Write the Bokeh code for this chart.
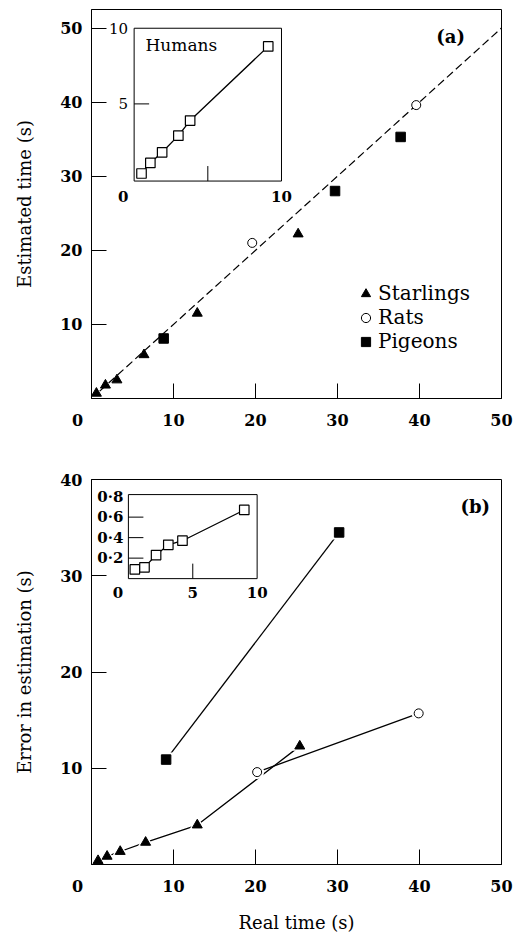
import math
from bokeh.plotting import figure
from bokeh.models import Range1d, FixedTicker, Legend, LegendItem
from bokeh.layouts import column
from bokeh.embed import file_html
from bokeh.resources import INLINE
from bokeh.core.properties import value

# ---------------- data: panel (a) estimated vs real time ----------------
star_real_a = [0.6, 1.7, 3.1, 6.4, 12.9, 25.2]
star_est_a = [0.7, 1.8, 2.5, 5.9, 11.5, 22.2]
rat_real_a = [19.6, 39.6]
rat_est_a = [21.0, 39.6]
pig_real_a = [8.8, 29.7, 37.7]
pig_est_a = [8.1, 28.0, 35.3]
human_real_a = [0.5, 1.1, 1.9, 3.0, 3.8, 9.1]
human_est_a = [0.4, 1.1, 1.8, 2.9, 3.9, 8.8]
identity_x = [1.0, 50.0]          # dashed line y = x
identity_y = [1.0, 50.0]

# ---------------- data: panel (b) error in estimation ----------------
star_real_b = [0.8, 1.9, 3.5, 6.6, 12.9, 25.4]
star_err_b = [0.4, 0.85, 1.35, 2.3, 4.1, 12.3]
rat_real_b = [20.2, 39.9]
rat_err_b = [9.6, 15.7]
pig_real_b = [9.1, 30.2]
pig_err_b = [10.9, 34.5]
human_real_b = [0.5, 1.25, 2.15, 3.1, 4.2, 9.0]
human_err_b = [0.09, 0.11, 0.23, 0.33, 0.37, 0.67]

# ---------------- ticks ----------------
main_x_ticks = [0, 10, 20, 30, 40, 50]
main_y_ticks_a = [10, 20, 30, 40, 50]
main_y_ticks_b = [10, 20, 30, 40]
inset_x_ticks = [0, 5, 10]
inset_a_y_ticks = [5, 10]
inset_a_y_labels = ["5", "10"]
inset_a_x_labels = ["0", "10"]
inset_b_y_ticks = [0.2, 0.4, 0.6, 0.8]
inset_b_y_labels = ["0\u00b72", "0\u00b74", "0\u00b76", "0\u00b78"]
inset_b_x_labels = ["0", "5", "10"]

SERIF = "DejaVu Serif"
LW = 1.3


def base_fig(height, y_end, border_top, border_bottom, y_ticks, y_title, x_title):
    p = figure(width=518, height=height, x_range=Range1d(0, 50), y_range=Range1d(0, y_end),
               min_border_left=91, min_border_right=17, min_border_top=border_top,
               min_border_bottom=border_bottom, output_backend="svg", toolbar_location=None)
    p.grid.visible = False
    p.outline_line_color = "black"
    p.outline_line_width = 1
    p.background_fill_color = "white"
    p.border_fill_color = "white"
    for ax in (p.xaxis[0], p.yaxis[0]):
        ax.axis_line_color = "black"
        ax.axis_line_width = 1
        ax.major_tick_in = 15
        ax.major_tick_out = 0
        ax.major_tick_line_width = 1
        ax.minor_tick_line_color = None
        ax.major_label_text_font = SERIF
        ax.major_label_text_font_style = "bold"
        ax.major_label_text_font_size = "16px"
        ax.major_label_text_color = "black"
        ax.major_label_text_line_height = 1.0
        ax.axis_label_text_font = SERIF
        ax.axis_label_text_font_style = "normal"
        ax.axis_label_text_font_size = "18px"
        ax.axis_label_text_color = "black"
        ax.axis_label_text_line_height = 1.0
    p.xaxis.ticker = FixedTicker(ticks=main_x_ticks)
    # the corner "0" sits a little left of the origin
    p.xaxis.major_label_overrides = {0: "0" + "\u00a0" * 5}
    p.xaxis.major_label_standoff = 12
    p.yaxis.ticker = FixedTicker(ticks=y_ticks)
    p.yaxis.major_label_standoff = 9
    p.yaxis.axis_label = y_title
    p.yaxis.axis_label_standoff = 22
    if x_title:
        p.xaxis.axis_label = x_title
        p.xaxis.axis_label_standoff = 13
    return p


def add_inset_ranges(p, name, main_box, inset_box):
    mx0, mx1, my0, my1 = main_box
    ix0, ix1, iy0, iy1 = inset_box
    kx = (ix1 - ix0) / (mx1 - mx0)
    ky = (iy1 - iy0) / (my1 - my0)
    p.extra_x_ranges[name] = Range1d(ix0 + (p.x_range.start - mx0) * kx, ix0 + (p.x_range.end - mx0) * kx)
    p.extra_y_ranges[name] = Range1d(iy0 + (p.y_range.start - my0) * ky, iy0 + (p.y_range.end - my0) * ky)


def draw_inset(p, name, box, xt_in, yt_in, y_ticks, y_labels, y_bold, y_lab_dx):
    bx0, bx1, by0, by1 = box
    kw = dict(x_range_name=name, y_range_name=name)
    p.quad(left=[bx0], right=[bx1], bottom=[by0], top=[by1], fill_color="white",
           line_color="black", line_width=1, **kw)
    # inward ticks
    p.ray(x=[bx0] * len(yt_in), y=yt_in, length=15, length_units="screen", angle=0,
          line_color="black", line_width=1, **kw)
    p.ray(x=xt_in, y=[by0] * len(xt_in), length=15, length_units="screen", angle=math.pi / 2,
          line_color="black", line_width=1, **kw)
    # y tick labels
    p.text(x=[bx0] * len(y_ticks), y=y_ticks, text=y_labels, x_offset=y_lab_dx, y_offset=0,
           text_align="right", text_baseline="middle", text_font=value(SERIF),
           text_font_style="bold" if y_bold else "normal", text_font_size="15px",
           text_color="black", **kw)
    return kw


# ======================= panel (a) =======================
p1 = base_fig(460, 52.5, 9, 62, main_y_ticks_a, "Estimated time (s)", None)

p1.line(identity_x, identity_y, line_color="black", line_width=1.2, line_dash="8 4")
r_star = p1.scatter(star_real_a, star_est_a, marker="triangle", size=10, fill_color="black",
                    line_color="black")
r_rat = p1.scatter(rat_real_a, rat_est_a, marker="circle", size=9, fill_color="white",
                   line_color="black", line_width=1)
r_pig = p1.scatter(pig_real_a, pig_est_a, marker="square", size=9.5, fill_color="black",
                   line_color="black")

p1.text(x=[43.8], y=[48.85], text=["(a)"], text_align="center", text_baseline="middle",
        text_font=value(SERIF), text_font_style="bold", text_font_size="18px", text_color="black")

legend = Legend(items=[LegendItem(label="Starlings", renderers=[r_star]),
                       LegendItem(label="Rats", renderers=[r_rat]),
                       LegendItem(label="Pigeons", renderers=[r_pig])],
                location=(263, 45), margin=0, padding=0, spacing=0,
                glyph_width=23, glyph_height=23, label_height=23, label_standoff=1,
                label_text_font=SERIF, label_text_font_size="20px", label_text_color="black",
                border_line_color=None, background_fill_alpha=0)
p1.add_layout(legend)

# inset (a): humans
add_inset_ranges(p1, "ia", (5.2, 23.17, 29.55, 49.97), (0, 10, 0, 10))
kwa = draw_inset(p1, "ia", (0, 10, -0.1, 10), [5], [5], inset_a_y_ticks, inset_a_y_labels,
                 False, -6)
p1.text(x=[0], y=[-0.1], text=[inset_a_x_labels[0]], x_offset=-11, y_offset=15, text_align="center",
        text_baseline="middle", text_font=value(SERIF), text_font_style="bold",
        text_font_size="15px", text_color="black", **kwa)
p1.text(x=[10], y=[-0.1], text=[inset_a_x_labels[1]], x_offset=0, y_offset=15, text_align="center",
        text_baseline="middle", text_font=value(SERIF), text_font_style="bold",
        text_font_size="15px", text_color="black", **kwa)
p1.line(human_real_a, human_est_a, line_color="black", line_width=LW, **kwa)
p1.scatter(human_real_a, human_est_a, marker="square", size=9.5, fill_color="white",
           line_color="black", line_width=1.2, **kwa)
p1.text(x=[0.77], y=[8.86], text=["Humans"], text_align="left", text_baseline="middle",
        text_font=value(SERIF), text_font_size="17px", text_color="black", **kwa)

# ======================= panel (b) =======================
p2 = base_fig(475, 40, 19, 67, main_y_ticks_b, "Error in estimation (s)", "Real time (s)")

for xs, ys in ((pig_real_b, pig_err_b), (rat_real_b, rat_err_b), (star_real_b, star_err_b)):
    p2.line(xs, ys, line_color="black", line_width=LW)
# white halos so the lines stop short of the symbols
p2.scatter(star_real_b, star_err_b, marker="triangle", size=16, fill_color="white", line_color=None)
p2.scatter(rat_real_b, rat_err_b, marker="circle", size=14, fill_color="white", line_color=None)
p2.scatter(pig_real_b, pig_err_b, marker="square", size=14, fill_color="white", line_color=None)
p2.scatter(star_real_b, star_err_b, marker="triangle", size=10, fill_color="black", line_color="black")
p2.scatter(rat_real_b, rat_err_b, marker="circle", size=9, fill_color="white", line_color="black",
           line_width=1)
p2.scatter(pig_real_b, pig_err_b, marker="square", size=9.5, fill_color="black", line_color="black")

p2.text(x=[46.8], y=[37.2], text=["(b)"], text_align="center", text_baseline="middle",
        text_font=value(SERIF), text_font_style="bold", text_font_size="18px", text_color="black")

# inset (b): humans error
add_inset_ranges(p2, "ib", (4.5, 20.2, 29.7, 38.22), (0, 10, 0, 0.8))
kwb = draw_inset(p2, "ib", (0, 10, 0, 0.82), [5], [0.2, 0.4, 0.6], inset_b_y_ticks,
                 inset_b_y_labels, True, -5)
p2.text(x=[0], y=[0], text=[inset_b_x_labels[0]], x_offset=-10.5, y_offset=14, text_align="center",
        text_baseline="middle", text_font=value(SERIF), text_font_style="bold",
        text_font_size="15px", text_color="black", **kwb)
p2.text(x=inset_x_ticks[1:], y=[0, 0], text=inset_b_x_labels[1:], x_offset=0, y_offset=14,
        text_align="center", text_baseline="middle", text_font=value(SERIF),
        text_font_style="bold", text_font_size="15px", text_color="black", **kwb)
p2.line(human_real_b, human_err_b, line_color="black", line_width=LW, **kwb)
p2.scatter(human_real_b, human_err_b, marker="square", size=9.5, fill_color="white",
           line_color="black", line_width=1.2, **kwb)

layout = column(p1, p2, spacing=0)
open("out.html", "w").write(file_html(layout, INLINE))
